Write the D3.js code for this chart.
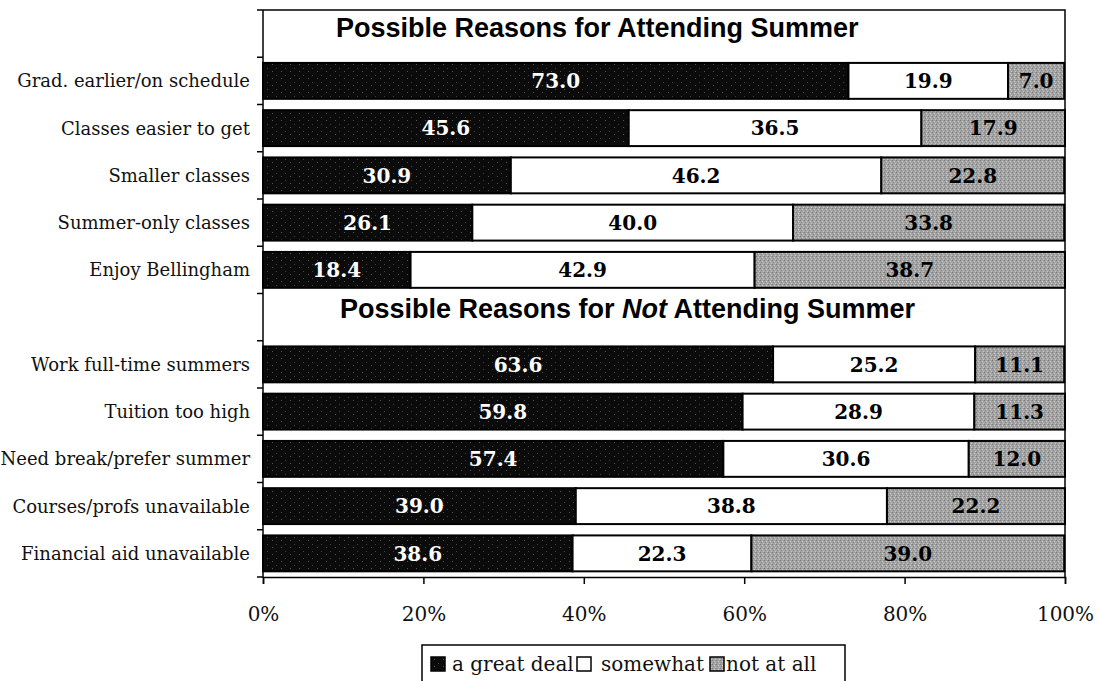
<!DOCTYPE html>
<html>
<head>
<meta charset="utf-8">
<script src="https://cdn.jsdelivr.net/npm/d3@7"></script>
<style>
  html, body { margin: 0; padding: 0; background: #fff; }
  svg { display: block; }
</style>
</head>
<body>
<svg id="chart" width="1099" height="681"></svg>
<script>
// Survey rows (top to bottom). Header rows carry no values.
const rows = [
  "H1",
  "Grad. earlier/on schedule",
  "Classes easier to get",
  "Smaller classes",
  "Summer-only classes",
  "Enjoy Bellingham",
  "H2",
  "Work full-time summers",
  "Tuition too high",
  "Need break/prefer summer",
  "Courses/profs unavailable",
  "Financial aid unavailable"
];
const categories = rows.filter(r => r !== "H1" && r !== "H2");
const greatDeal = [73.0, 45.6, 30.9, 26.1, 18.4, 63.6, 59.8, 57.4, 39.0, 38.6];
const somewhat  = [19.9, 36.5, 46.2, 40.0, 42.9, 25.2, 28.9, 30.6, 38.8, 22.3];
const notAtAll  = [7.0, 17.9, 22.8, 33.8, 38.7, 11.1, 11.3, 12.0, 22.2, 39.0];
const seriesNames = ["a great deal", "somewhat", "not at all"];
const xTicks = [0, 20, 40, 60, 80, 100];

const svg = d3.select("#chart");
const plotL = 263, plotR = 1065, plotT = 10, plotB = 577;

const x = d3.scaleLinear().domain([0, 100]).range([plotL, plotR]);
const y = d3.scaleBand().domain(rows).range([plotT, plotB]).paddingInner(0.24).paddingOuter(0.12);
const yStep = y.step();

// Textures for the dark and grey fills
const defs = svg.append("defs");
const dark = defs.append("pattern").attr("id", "darkFill").attr("patternUnits", "userSpaceOnUse")
  .attr("width", 9).attr("height", 7);
dark.append("rect").attr("width", 9).attr("height", 7).attr("fill", "#0b0b0b");
dark.append("rect").attr("x", 2).attr("y", 1).attr("width", 1).attr("height", 1).attr("fill", "#555");
dark.append("rect").attr("x", 6).attr("y", 5).attr("width", 1).attr("height", 1).attr("fill", "#444");
const grey = defs.append("pattern").attr("id", "greyFill").attr("patternUnits", "userSpaceOnUse")
  .attr("width", 4).attr("height", 4);
grey.append("rect").attr("width", 4).attr("height", 4).attr("fill", "#a3a3a3");
[[0,0,"#7a7a7a"],[2,1,"#d0d0d0"],[1,2,"#888"],[3,3,"#c8c8c8"],[3,0,"#959595"]].forEach(([px,py,c]) =>
  grey.append("rect").attr("x", px).attr("y", py).attr("width", 1).attr("height", 1).attr("fill", c));

const fills = ["url(#darkFill)", "#ffffff", "url(#greyFill)"];
const labelColors = ["#ffffff", "#000000", "#000000"];

// Stack the three answers per category
const table = categories.map((c, i) => ({ cat: c, v: [greatDeal[i], somewhat[i], notAtAll[i]] }));
const g = svg.append("g");
table.forEach(d => {
  let acc = 0;
  d.v.forEach((val, k) => {
    const x0 = x(acc), x1 = x(acc + val);
    g.append("rect")
      .attr("x", x0).attr("y", y(d.cat))
      .attr("width", x1 - x0).attr("height", y.bandwidth())
      .attr("fill", fills[k]).attr("stroke", "#000").attr("stroke-width", 2);
    g.append("text")
      .attr("x", (x0 + x1) / 2).attr("y", y(d.cat) + y.bandwidth() / 2)
      .attr("dy", "0.36em").attr("text-anchor", "middle")
      .attr("font-family", "DejaVu Serif").attr("font-weight", "bold").attr("font-size", 20)
      .attr("fill", labelColors[k])
      .text(val.toFixed(1));
    acc += val;
  });
});

// Frame: top and right edges of the plot
svg.append("path")
  .attr("d", `M${plotL},${plotT}H${plotR}V${plotB}`)
  .attr("fill", "none").attr("stroke", "#000").attr("stroke-width", 1.5);

// Left axis with ticks at band boundaries
svg.append("line").attr("x1", plotL).attr("x2", plotL).attr("y1", plotT).attr("y2", plotB)
  .attr("stroke", "#000").attr("stroke-width", 1.5);
d3.range(rows.length + 1).forEach(i => {
  const yy = plotT + i * yStep;
  svg.append("line").attr("x1", plotL - 6).attr("x2", plotL).attr("y1", yy).attr("y2", yy)
    .attr("stroke", "#000").attr("stroke-width", 1.5);
});

// Category labels
svg.append("g").selectAll("text").data(categories).join("text")
  .attr("x", plotL - 13).attr("y", d => y(d) + y.bandwidth() / 2)
  .attr("dy", "0.36em").attr("text-anchor", "end")
  .attr("font-family", "DejaVu Serif").attr("font-size", 18).attr("fill", "#111")
  .text(d => d);

// Section headers
svg.append("text").attr("x", 336).attr("y", y("H1") + y.bandwidth() / 2 + 3)
  .attr("font-family", "Liberation Sans, Arial").attr("font-weight", "bold")
  .attr("font-size", 27).attr("fill", "#000").text("Possible Reasons for Attending Summer");
const h2 = svg.append("text").attr("x", 340).attr("y", y("H2") + y.bandwidth() / 2 + 1)
  .attr("font-family", "Liberation Sans, Arial").attr("font-weight", "bold")
  .attr("font-size", 27).attr("fill", "#000");
h2.append("tspan").text("Possible Reasons for ");
h2.append("tspan").attr("font-style", "italic").text("Not");
h2.append("tspan").text(" Attending Summer");

// Bottom axis
const xAxis = d3.axisBottom(x).tickValues(xTicks).tickFormat(d => d + "%").tickSize(7).tickPadding(23);
const ax = svg.append("g").attr("transform", `translate(0,${plotB})`).call(xAxis);
ax.select(".domain").attr("stroke-width", 1.5);
ax.selectAll(".tick line").attr("stroke-width", 1.5);
ax.selectAll(".tick text").attr("font-family", "DejaVu Serif").attr("font-size", 20).attr("fill", "#111");

// Legend
const legend = svg.append("g");
legend.append("rect").attr("x", 422).attr("y", 645).attr("width", 423).attr("height", 45)
  .attr("fill", "#fff").attr("stroke", "#000").attr("stroke-width", 1.5);
const swatchX = [431, 577, 710];
const textX = [452, 601, 726];
seriesNames.forEach((name, k) => {
  legend.append("rect").attr("x", swatchX[k]).attr("y", 657).attr("width", 14).attr("height", 14)
    .attr("fill", fills[k]).attr("stroke", "#000").attr("stroke-width", 1.5);
  legend.append("text").attr("x", textX[k]).attr("y", 671)
    .attr("font-family", "DejaVu Serif").attr("font-size", 20).attr("fill", "#111").text(name);
});
</script>
</body>
</html>
